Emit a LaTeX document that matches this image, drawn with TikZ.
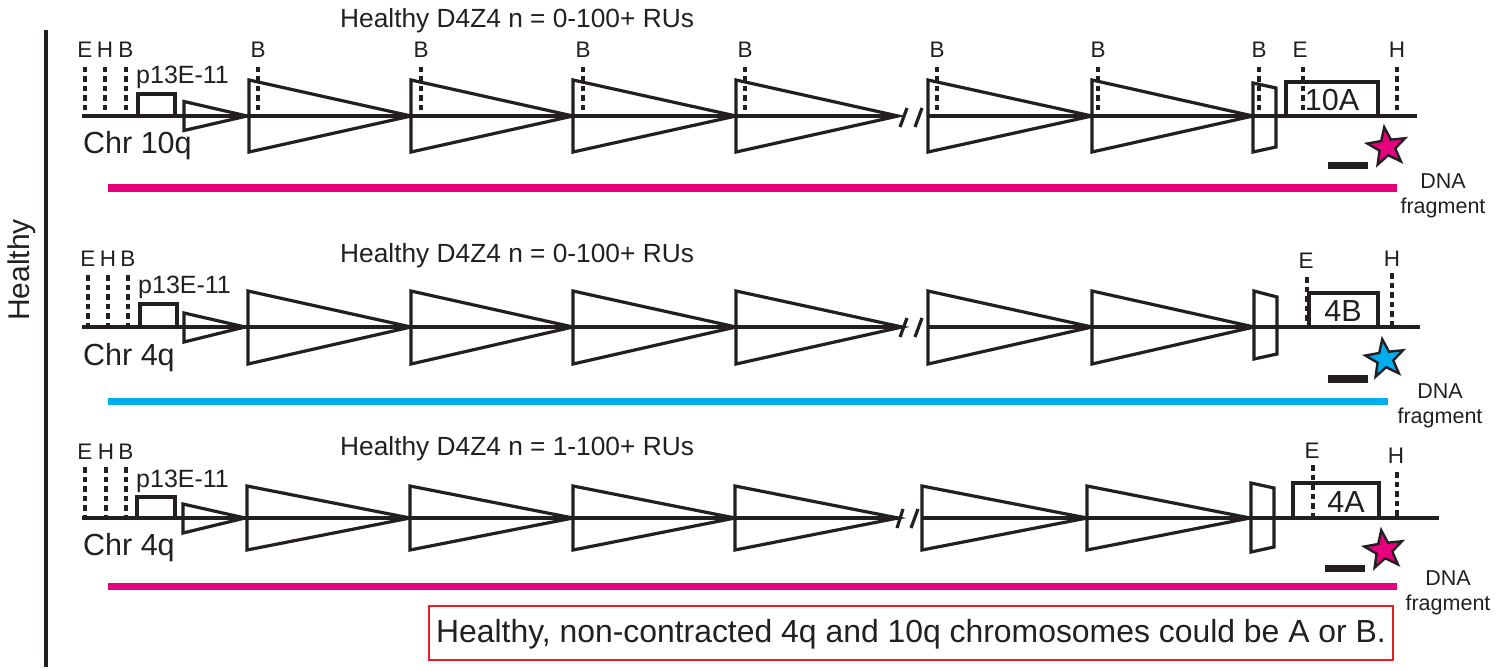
\documentclass[tikz,border=0pt]{standalone}
\usepackage{fontspec}
\setmainfont{Liberation Sans}
\usetikzlibrary{shapes.geometric}
\definecolor{ink}{HTML}{231F20}
\definecolor{pinkfrag}{HTML}{E6007E}
\definecolor{bluefrag}{HTML}{00AEEF}
\definecolor{redframe}{HTML}{ED1C24}
\tikzset{
  chr/.style={draw=ink, line width=3.2pt},
  site/.style={draw=ink, line width=3.2pt, dash pattern=on 5.5pt off 4pt},
  unit/.style={draw=ink, line width=3.2pt, line join=miter},
  probe/.style={fill=ink},
  frag/.style={line width=7pt},
  sitelbl/.style={font=\fontsize{22.5}{26}\selectfont, text=ink, inner sep=0pt, anchor=base},
  probelbl/.style={font=\fontsize{25}{29}\selectfont, text=ink, inner sep=0pt, anchor=base west},
  chrlbl/.style={font=\fontsize{30.5}{35}\selectfont, text=ink, inner sep=0pt, anchor=base west},
  titlelbl/.style={font=\fontsize{26.3}{31}\selectfont, text=ink, inner sep=0pt, anchor=base west},
  varlbl/.style={font=\fontsize{30.5}{35}\selectfont, text=ink, inner sep=0pt},
  fraglbl/.style={font=\fontsize{21.5}{25}\selectfont, text=ink, align=center, inner sep=0pt},
  marker/.style={star, star points=5, star point ratio=2.4, minimum size=40pt, inner sep=0pt,
    draw=ink, line width=2.4pt},
}
\begin{document}
\begin{tikzpicture}[x=1pt, y=-1pt]
\useasboundingbox (0,0) rectangle (1503,671);

% group bracket and label
\coordinate (gtop) at (46,30);
\coordinate (gbot) at (46,667);
\draw[chr] (gtop) -- (gbot);
\node[font=\fontsize{30}{34}\selectfont, text=ink, rotate=90] (group) at (22,270) {Healthy};

% ================= Chr 10q =================
\node[titlelbl] (t1) at (340,28) {Healthy D4Z4 n = 0-100+ RUs};
\coordinate (c1a) at (82,116);   \coordinate (c1b) at (898,116);
\coordinate (c1c) at (928,116);  \coordinate (c1d) at (1417,116);
\draw[chr] (c1a) -- (c1b);
\draw[chr] (c1c) -- (c1d);
\foreach \x/\t in {85/E,105/H,126/B}{
  \draw[site] (\x,67) -- (\x,116);
  \node[sitelbl] at (\x,58) {\t};
}
\draw[unit] (138,94) rectangle (175,116);
\node[probelbl] (p1) at (136,84) {p13E-11};
\draw[unit] (184,101.5) -- (247,116) -- (184,130.5) -- cycle;
\foreach \a/\b in {249/411,411/573,573/736,736/898,928/1092,1092/1253}
  \draw[unit] (\a,80) -- (\b,116) -- (\a,152) -- cycle;
\draw[unit] (900,127) -- (907,108);
\draw[unit] (915,127) -- (922,108);
\foreach \x in {258,421,583,745,937,1098,1259}{
  \draw[site] (\x,67) -- (\x,116);
  \node[sitelbl] at (\x,58) {B};
}
\draw[unit] (1253,83) -- (1276,88) -- (1276,147) -- (1253,152) -- cycle;
\draw[unit] (1286,82) rectangle (1378,116);
\node[varlbl] (v1) at (1332,100) {10A};
\draw[site] (1303,67) -- (1303,116);
\node[sitelbl] at (1300,58) {E};
\draw[site] (1397,67) -- (1397,116);
\node[sitelbl] at (1397,58) {H};
\fill[probe] (1328,162) rectangle (1368,169);
\node[marker, fill=pinkfrag, rotate=8] (s1) at (1387,147) {};
\coordinate (f1a) at (108,188); \coordinate (f1b) at (1397,188);
\draw[frag, pinkfrag] (f1a) -- (f1b);
\node[fraglbl] (d1) at (1443,196) {DNA\\fragment};
\node[chrlbl] (n1) at (83,154) {Chr 10q};

% ================= Chr 4q (4B) =================
\node[titlelbl] (t2) at (340,262) {Healthy D4Z4 n = 0-100+ RUs};
\coordinate (c2a) at (82,327);   \coordinate (c2b) at (902,327);
\coordinate (c2c) at (928,327);  \coordinate (c2d) at (1420,327);
\draw[chr] (c2a) -- (c2b);
\draw[chr] (c2c) -- (c2d);
\foreach \x/\t in {88/E,108/H,128/B}{
  \draw[site] (\x,275) -- (\x,327);
  \node[sitelbl] at (\x,266) {\t};
}
\draw[unit] (140,304) rectangle (177,327);
\node[probelbl] (p2) at (138,293) {p13E-11};
\draw[unit] (184,313) -- (245,327) -- (184,342) -- cycle;
\foreach \a/\b in {248/411,411/573,573/736,736/902,928/1092,1092/1254}
  \draw[unit] (\a,291) -- (\b,327) -- (\a,364) -- cycle;
\draw[unit] (900,337) -- (907,318);
\draw[unit] (915,337) -- (922,318);
\draw[unit] (1254,291) -- (1277,297) -- (1277,354) -- (1254,359) -- cycle;
\draw[unit] (1309,293) rectangle (1378,327);
\node[varlbl] (v2) at (1343,311) {4B};
\draw[site] (1307,277) -- (1307,327);
\node[sitelbl] at (1306,268) {E};
\draw[site] (1392,273) -- (1392,327);
\node[sitelbl] at (1392,266) {H};
\fill[probe] (1328,375) rectangle (1368,383);
\node[marker, fill=bluefrag, rotate=8] (s2) at (1385,359) {};
\coordinate (f2a) at (108,401); \coordinate (f2b) at (1388,401);
\draw[frag, bluefrag] (f2a) -- (f2b);
\node[fraglbl] (d2) at (1440,406) {DNA\\fragment};
\node[chrlbl] (n2) at (83,365) {Chr 4q};

% ================= Chr 4q (4A) =================
\node[titlelbl] (t3) at (340,455) {Healthy D4Z4 n = 1-100+ RUs};
\coordinate (c3a) at (82,518);   \coordinate (c3b) at (898,518);
\coordinate (c3c) at (922,518);  \coordinate (c3d) at (1439,518);
\draw[chr] (c3a) -- (c3b);
\draw[chr] (c3c) -- (c3d);
\foreach \x/\t in {85/E,106/H,126/B}{
  \draw[site] (\x,467) -- (\x,518);
  \node[sitelbl] at (\x,459) {\t};
}
\draw[unit] (137,497) rectangle (175,518);
\node[probelbl] (p3) at (136,487) {p13E-11};
\draw[unit] (183,504) -- (245,518) -- (183,533) -- cycle;
\foreach \a/\b in {247/410,410/573,573/735,735/898,922/1087,1087/1250}
  \draw[unit] (\a,486) -- (\b,518) -- (\a,550) -- cycle;
\draw[unit] (897,528) -- (903,509);
\draw[unit] (911,528) -- (918,509);
\draw[unit] (1251,483) -- (1274,488) -- (1274,547) -- (1251,552) -- cycle;
\draw[unit] (1293,483) rectangle (1379,518);
\node[varlbl] (v3) at (1346,502) {4A};
\draw[site] (1313,465) -- (1313,518);
\node[sitelbl] at (1312,458) {E};
\draw[site] (1397,472) -- (1397,518);
\node[sitelbl] at (1396,463) {H};
\fill[probe] (1325,565) rectangle (1365,572);
\node[marker, fill=pinkfrag, rotate=8] (s3) at (1384,550) {};
\coordinate (f3a) at (108,586); \coordinate (f3b) at (1397,586);
\draw[frag, pinkfrag] (f3a) -- (f3b);
\node[fraglbl] (d3) at (1448,593) {DNA\\fragment};
\node[chrlbl] (n3) at (83,555) {Chr 4q};

% conclusion
\draw[redframe, line width=2.8pt] (429,606) rectangle (1393,660);
\node[font=\fontsize{31.9}{36}\selectfont, text=ink, inner sep=0pt] (note) at (911,634)
  {Healthy, non-contracted 4q and 10q chromosomes could be A or B.};
\end{tikzpicture}
\end{document}
